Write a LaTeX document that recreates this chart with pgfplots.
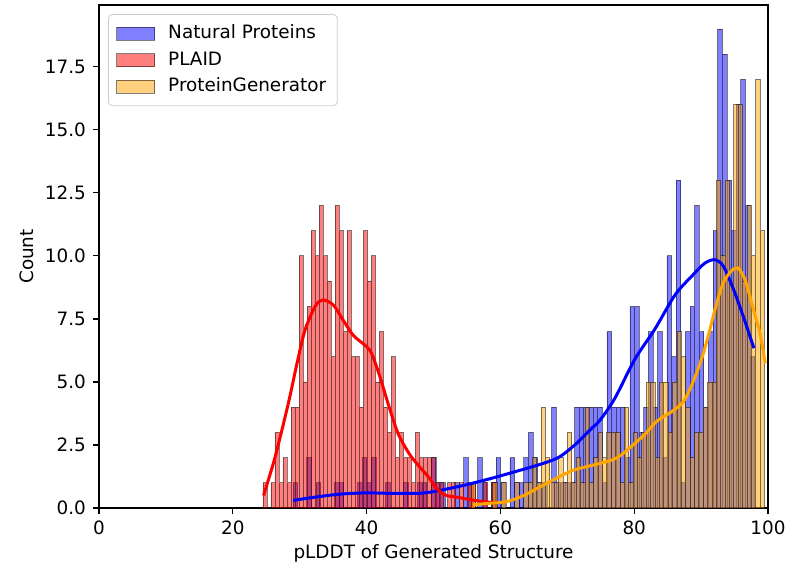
\documentclass[border=0pt]{standalone}
\usepackage{fontspec}
\setmainfont{DejaVu Sans}
\usepackage{pgfplots}
\pgfplotsset{compat=1.18}
\definecolor{mplorange}{RGB}{255,165,0}
\newcommand{\fs}{\fontsize{9.2pt}{11pt}\selectfont}
\begin{document}
\begin{tikzpicture}[font=\fs]
\begin{axis}[
  scale only axis, width=334.5pt, height=251.5pt,
  xmin=0, xmax=100, ymin=0, ymax=19.95,
  axis line style={line width=0.7pt},
  tick align=outside, tick pos=left, major tick length=3pt,
  tick style={line width=0.6pt, black},
  xtick={0,20,...,100}, ytick={0,2.5,...,17.5},
  /pgf/number format/assume math mode=true,
  yticklabel style={/pgf/number format/.cd, fixed, fixed zerofill, precision=1},
  ticklabel style={font=\fs},
  xlabel={pLDDT of Generated Structure}, ylabel={Count},
  label style={font=\fs},
  xlabel style={at={(axis description cs:0.5,-0.0895)}, anchor=center},
  ylabel style={at={(axis description cs:-0.1076,0.5)}, anchor=center},
  legend image code/.code={\path[sharp corners,#1] (0pt,-3.25pt) rectangle (19pt,3.25pt);},
  legend cell align=left,
  legend style={at={(axis description cs:0.0135,0.982)}, anchor=north west,
    draw=black!20, rounded corners=2pt, fill=white, fill opacity=0.8, text opacity=1,
    font=\fs, row sep=0.3pt, inner xsep=4pt, inner ysep=3pt,
    nodes={inner sep=1.5pt, text height=0.75em, text depth=0.25em},
    /tikz/every odd column/.append style={column sep=5pt}},
]
% Natural Proteins
\addplot[forget plot, ybar interval, fill=blue, fill opacity=0.5, draw=black, draw opacity=0.5, line width=0.4pt] coordinates {
(29.00,1) (29.69,0) (30.38,0) (31.07,2) (31.76,0) (32.45,1) (33.14,0) (33.83,0) (34.52,0) (35.21,1)
(35.90,1) (36.59,0) (37.28,0) (37.97,0) (38.66,1) (39.35,2) (40.04,1) (40.73,2) (41.42,0) (42.11,0)
(42.80,1) (43.49,0) (44.18,0) (44.87,0) (45.56,1) (46.25,0) (46.94,0) (47.63,1) (48.32,1) (49.01,0)
(49.70,2) (50.39,1) (51.08,1) (51.77,0) (52.46,0) (53.15,1) (53.84,0) (54.53,2) (55.22,1) (55.91,0)
(56.60,2) (57.29,1) (57.98,0) (58.67,1) (59.36,2) (60.05,1) (60.74,0) (61.43,2) (62.12,1) (62.81,1)
(63.50,2) (64.19,3) (64.88,2) (65.57,1) (66.26,1) (66.95,0) (67.64,4) (68.33,1) (69.02,1) (69.71,1)
(70.40,1) (71.09,4) (71.78,4) (72.47,4) (73.16,4) (73.85,4) (74.54,4) (75.23,1) (75.92,7) (76.61,4)
(77.30,4) (77.99,4) (78.68,2) (79.37,8) (80.06,8) (80.75,3) (81.44,4) (82.13,7) (82.82,4) (83.51,7)
(84.20,2) (84.89,10) (85.58,6) (86.27,13) (86.96,1) (87.65,7) (88.34,8) (89.03,12) (89.72,7) (90.41,4)
(91.10,7) (91.79,11) (92.48,19) (93.17,18) (93.86,13) (94.55,11) (95.24,16) (95.93,17) (96.62,12) (97.31,6)
(98.00,0)};
% PLAID
\addplot[forget plot, ybar interval, fill=red, fill opacity=0.5, draw=black, draw opacity=0.5, line width=0.4pt] coordinates {
(24.5,1) (25.1,0) (25.7,1) (26.3,3) (26.9,1) (27.5,2) (28.1,1) (28.7,4) (29.3,4) (29.9,10)
(30.5,5) (31.1,8) (31.7,11) (32.3,10) (32.9,12) (33.5,10) (34.1,9) (34.7,6) (35.3,12) (35.9,11)
(36.5,7) (37.1,11) (37.7,6) (38.3,6) (38.9,4) (39.5,11) (40.1,9) (40.7,10) (41.3,5) (41.9,7)
(42.5,4) (43.1,3) (43.7,6) (44.3,2) (44.9,3) (45.5,2) (46.1,2) (46.7,1) (47.3,3) (47.9,2)
(48.5,2) (49.1,2) (49.7,2) (50.3,1) (50.9,1) (51.5,0) (52.1,1) (52.7,1) (53.3,0) (53.9,1)
(54.5,0) (55.1,1) (55.7,1) (56.3,0) (56.9,0) (57.5,1) (58.1,0) (58.7,1)
(59.3,0)};
% ProteinGenerator
\addplot[forget plot, ybar interval, fill=mplorange, fill opacity=0.5, draw=black, draw opacity=0.5, line width=0.4pt] coordinates {
(55.600,1) (56.255,0) (56.910,0) (57.565,0) (58.220,0) (58.875,1) (59.530,0) (60.185,1) (60.840,0) (61.495,0)
(62.150,1) (62.805,0) (63.460,1) (64.115,1) (64.770,2) (65.425,1) (66.080,4) (66.735,2) (67.390,1) (68.045,1)
(68.700,2) (69.355,1) (70.010,3) (70.665,1) (71.320,2) (71.975,1) (72.630,4) (73.285,1) (73.940,2) (74.595,3)
(75.250,2) (75.905,3) (76.560,3) (77.215,3) (77.870,1) (78.525,4) (79.180,1) (79.835,3) (80.490,2) (81.145,3)
(81.800,5) (82.455,5) (83.110,2) (83.765,5) (84.420,5) (85.075,3) (85.730,5) (86.385,7) (87.040,6) (87.695,4)
(88.350,2) (89.005,3) (89.660,3) (90.315,4) (90.970,5) (91.625,5) (92.280,13) (92.935,10) (93.590,13) (94.245,9)
(94.900,16) (95.555,16) (96.210,9) (96.865,12) (97.520,10) (98.175,17) (98.830,11)
(99.485,0)};
% KDE lines
\addplot[forget plot, blue, line width=1.5pt, smooth] coordinates {
(29.0,0.3) (32,0.42) (36,0.55) (40,0.6) (44,0.58) (48.7,0.6) (53.7,0.85) (57.7,1.11) (61.4,1.38) (66.4,1.77) (68.9,2.04) (71.4,2.57) (73.4,3.1) (74.9,3.49) (77.1,4.35) (80.1,5.9) (83.1,7.1) (86.1,8.45) (88.8,9.25) (90.5,9.7) (92.0,9.85) (93.3,9.6) (94.8,8.7) (96.3,7.6) (97.9,6.34)};
\addplot[forget plot, red, line width=1.5pt, smooth] coordinates {
(24.6,0.5) (26.3,2.0) (28.3,4.15) (29.6,5.74) (30.8,7.06) (32.3,7.99) (33.4,8.25) (35.0,8.06) (36.5,7.45) (38.0,6.85) (40.0,6.4) (40.8,6.1) (42.0,5.2) (43.2,4.15) (44.7,2.96) (46.5,2.1) (48.2,1.55) (49.5,1.15) (50.2,0.85) (51.7,0.52) (53.7,0.42) (56.2,0.3) (58.7,0.22) (59.6,0.2)};
\addplot[forget plot, mplorange, line width=1.5pt, smooth] coordinates {
(55.9,0.12) (58,0.18) (60.9,0.25) (63.5,0.5) (66.0,0.85) (68.5,1.2) (70.9,1.5) (73.5,1.68) (75.9,1.84) (77.5,2.0) (79.4,2.4) (81.5,2.9) (83.4,3.45) (85.5,3.8) (87.3,4.2) (88.3,4.7) (89.3,5.34) (90.3,6.1) (91.3,7.06) (92.3,8.1) (93.3,8.92) (94.5,9.4) (95.5,9.52) (96.5,9.1) (97.3,8.39) (98.1,7.6) (98.8,6.93) (99.6,5.74)};
\addlegendimage{fill=blue, fill opacity=0.5, draw=black, draw opacity=0.5, line width=0.4pt}
\addlegendentry{Natural Proteins}
\addlegendimage{fill=red, fill opacity=0.5, draw=black, draw opacity=0.5, line width=0.4pt}
\addlegendentry{PLAID}
\addlegendimage{fill=mplorange, fill opacity=0.5, draw=black, draw opacity=0.5, line width=0.4pt}
\addlegendentry{ProteinGenerator}
\end{axis}
\path (current axis.south west) +(-49.5pt,-28pt);
\path (current axis.north east) +(16pt,2.5pt);
\end{tikzpicture}
\end{document}
